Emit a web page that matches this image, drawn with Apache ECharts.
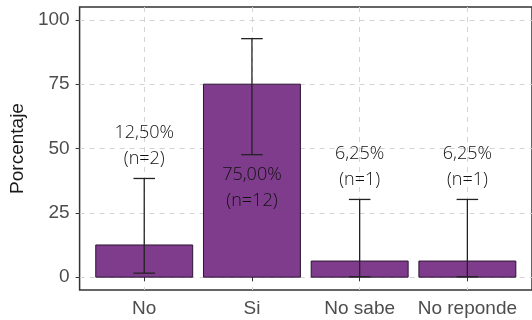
<!DOCTYPE html>
<html>
<head>
<meta charset="utf-8">
<script src="https://cdn.jsdelivr.net/npm/echarts@6/dist/echarts.min.js"></script>
<style>html,body{margin:0;padding:0;background:#fff}#c{width:532px;height:320px}</style>
</head>
<body>
<div id="c"></div>
<script>
const categories = ['No', 'Si', 'No sabe', 'No reponde'];
const values = [12.5, 75, 6.25, 6.25];
const counts = [2, 12, 1, 1];
const ciLower = [1.55, 47.6, 0.16, 0.16];
const ciUpper = [38.35, 92.7, 30.2, 30.2];
const labels = ['12,50%', '75,00%', '6,25%', '6,25%'];
const yTicks = [0, 25, 50, 75, 100];

const xPos = categories.map((c, i) => i + 1);
const barData = values.map((v, i) => [xPos[i], v]);
const errData = values.map((v, i) => [xPos[i], ciLower[i], ciUpper[i]]);
const labelData = values.map((v, i) => [xPos[i], v > 50 ? ciLower[i] - 13 : ciUpper[i] + 12.5, i]);

const FONT = '"Liberation Sans", Arial, sans-serif';
const chart = echarts.init(document.getElementById('c'), null, {renderer: 'canvas'});
const gridLine = {show: true, lineStyle: {color: '#d4d4d4', width: 1, type: [5, 5]}};
chart.setOption({
  animation: false,
  grid: {left: 79, top: 7, width: 461, height: 283, show: true, borderColor: '#333', borderWidth: 1.5, backgroundColor: 'transparent'},
  xAxis: {
    type: 'value', min: 0.4, max: 4.6,
    axisLine: {show: false},
    axisTick: {show: true, customValues: xPos, length: 4, lineStyle: {color: '#333'}},
    axisLabel: {customValues: xPos, formatter: v => categories[Math.round(v) - 1], color: '#4d4d4d', fontSize: 19, fontFamily: FONT, margin: 9},
    splitLine: gridLine
  },
  yAxis: {
    type: 'value', min: -5, max: 105,
    name: 'Porcentaje', nameLocation: 'middle', nameGap: 52, nameRotate: 90,
    nameTextStyle: {color: '#1a1a1a', fontSize: 19, fontFamily: FONT},
    axisLine: {show: false},
    axisTick: {show: true, customValues: yTicks, length: 4, lineStyle: {color: '#333'}},
    axisLabel: {customValues: yTicks, color: '#4d4d4d', fontSize: 19, fontFamily: FONT, margin: 10},
    splitLine: gridLine
  },
  series: [
    {
      type: 'custom', data: barData, z: 3,
      renderItem: (params, api) => {
        const x = api.value(0), v = api.value(1);
        const p0 = api.coord([x - 0.45, v]);
        const p1 = api.coord([x + 0.45, 0]);
        return {type: 'rect', shape: {x: p0[0], y: p0[1], width: p1[0] - p0[0], height: p1[1] - p0[1]},
          style: {fill: '#803c8c', stroke: '#2a1630', lineWidth: 1}};
      }
    },
    {
      type: 'custom', data: errData, z: 4,
      renderItem: (params, api) => {
        const x = api.value(0), lo = api.value(1), hi = api.value(2);
        const top = api.coord([x, hi]), bot = api.coord([x, lo]);
        const tl = api.coord([x - 0.1, hi]), tr = api.coord([x + 0.1, hi]);
        const bl = api.coord([x - 0.1, lo]), br = api.coord([x + 0.1, lo]);
        const st = {stroke: '#222', lineWidth: 1.3};
        return {type: 'group', children: [
          {type: 'line', shape: {x1: top[0], y1: top[1], x2: bot[0], y2: bot[1]}, style: st},
          {type: 'line', shape: {x1: tl[0], y1: tl[1], x2: tr[0], y2: tr[1]}, style: st},
          {type: 'line', shape: {x1: bl[0], y1: bl[1], x2: br[0], y2: br[1]}, style: st}
        ]};
      }
    },
    {
      type: 'custom', data: labelData, z: 5,
      renderItem: (params, api) => {
        const x = api.value(0), y = api.value(1), i = api.value(2);
        const p = api.coord([x, y]);
        return {type: 'text', x: p[0], y: p[1], style: {
          text: labels[i] + '\n(n=' + counts[i] + ')', align: 'center', verticalAlign: 'middle',
          fill: '#111', fontSize: 18, lineHeight: 26, fontFamily: '"Open Sans", sans-serif', fontWeight: 300}};
      }
    }
  ]
});
</script>
</body>
</html>
